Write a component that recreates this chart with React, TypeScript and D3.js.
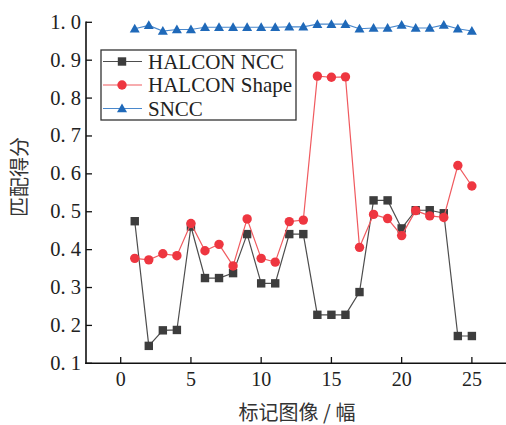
import React from "react";
import * as d3 from "d3";

const xs = [1,2,3,4,5,6,7,8,9,10,11,12,13,14,15,16,17,18,19,20,21,22,23,24,25];
const nccValues = [0.475,0.146,0.187,0.188,0.461,0.325,0.325,0.338,0.441,0.311,0.311,0.441,0.441,0.228,0.228,0.228,0.288,0.530,0.530,0.456,0.504,0.504,0.496,0.172,0.172];
const shapeValues = [0.377,0.373,0.389,0.384,0.469,0.397,0.414,0.357,0.481,0.377,0.367,0.474,0.478,0.858,0.855,0.856,0.406,0.493,0.482,0.437,0.503,0.489,0.485,0.622,0.568];
const snccValues = [0.983,0.992,0.977,0.981,0.981,0.987,0.987,0.987,0.987,0.987,0.987,0.988,0.988,0.995,0.995,0.995,0.983,0.985,0.985,0.993,0.985,0.985,0.993,0.983,0.977];
const xTicks = [0,5,10,15,20,25];
const yTicks = [0.1,0.2,0.3,0.4,0.5,0.6,0.7,0.8,0.9,1.0];
const seriesNames = ["HALCON NCC","HALCON Shape","SNCC"];
const xTitle = "标记图像 / 幅";
const yTitle = "匹配得分";

const W = 506, H = 425;
const serif = "'Liberation Serif', 'Times New Roman', serif";
const cjk = "'Noto Sans CJK SC', sans-serif";

export default function App() {
  const x = d3.scaleLinear().domain([-2.47, 27.5]).range([86, 507]);
  const y = d3.scaleLinear().domain([0.1, 1.0]).range([363.3, 22.3]);
  const line = d3.line<number>().x((_, i) => x(xs[i])).y(d => y(d));
  const fmt = (v: number) => d3.format(".1f")(v).replace(".", ". ");
  const series = [
    { name: seriesNames[0], values: nccValues, line: "#4d4d4d", fill: "#3d3d3d", shape: "square" },
    { name: seriesNames[1], values: shapeValues, line: "#f05a5f", fill: "#ee3640", shape: "circle" },
    { name: seriesNames[2], values: snccValues, line: "#4a88cc", fill: "#1f69b9", shape: "triangle" },
  ];
  const marker = (shape: string, cx: number, cy: number, fill: string, key: any) => {
    if (shape === "square") return <rect key={key} x={cx - 4.2} y={cy - 4.2} width={8.4} height={8.4} fill={fill} />;
    if (shape === "circle") return <circle key={key} cx={cx} cy={cy} r={4.7} fill={fill} />;
    return <path key={key} d={`M${cx},${cy - 5}L${cx + 5},${cy + 3.7}L${cx - 5},${cy + 3.7}Z`} fill={fill} />;
  };
  const legendRows = [61.5, 85, 108.5];
  return (
    <svg width={W} height={H} style={{ position: "absolute", left: 0, top: 0, background: "#fff" }}>
      {series.map((s, si) => (
        <g key={si}>
          <path d={line(s.values) || ""} fill="none" stroke={s.line} strokeWidth={1.2} />
          {s.values.map((v, i) => marker(s.shape, x(xs[i]), y(v), s.fill, i))}
        </g>
      ))}
      {/* axes */}
      <line x1={86} x2={86} y1={21.5} y2={364} stroke="#111" strokeWidth={1.6} />
      <line x1={85.2} x2={506} y1={363.3} y2={363.3} stroke="#111" strokeWidth={1.6} />
      {yTicks.map((t, i) => (
        <g key={i}>
          <line x1={86} x2={92} y1={y(t)} y2={y(t)} stroke="#111" strokeWidth={1.3} />
          <text x={81} y={y(t) + 6.5} textAnchor="end" fontFamily={serif} fontSize={20.5} fill="#222">{fmt(t)}</text>
        </g>
      ))}
      {xTicks.map((t, i) => (
        <g key={i}>
          <line x1={x(t)} x2={x(t)} y1={363.3} y2={357} stroke="#111" strokeWidth={1.3} />
          <text x={x(t)} y={386} textAnchor="middle" fontFamily={serif} fontSize={20} fill="#222">{t}</text>
        </g>
      ))}
      <text x={297} y={420} textAnchor="middle" fontFamily={cjk} fontSize={20} fill="#333">{xTitle}</text>
      <text transform={`translate(27,177) rotate(-90)`} textAnchor="middle" fontFamily={cjk} fontSize={20} fill="#333">{yTitle}</text>
      {/* legend */}
      <rect x={101} y={50} width={195} height={70} fill="#fff" stroke="#333" strokeWidth={1.3} />
      {series.map((s, si) => (
        <g key={si}>
          <line x1={103} x2={142} y1={legendRows[si]} y2={legendRows[si]} stroke={s.line} strokeWidth={1.2} />
          {marker(s.shape, 122, legendRows[si], s.fill, "m")}
          <text x={148} y={legendRows[si] + 7} fontFamily={serif} fontSize={21} fill="#222">{s.name}</text>
        </g>
      ))}
    </svg>
  );
}
